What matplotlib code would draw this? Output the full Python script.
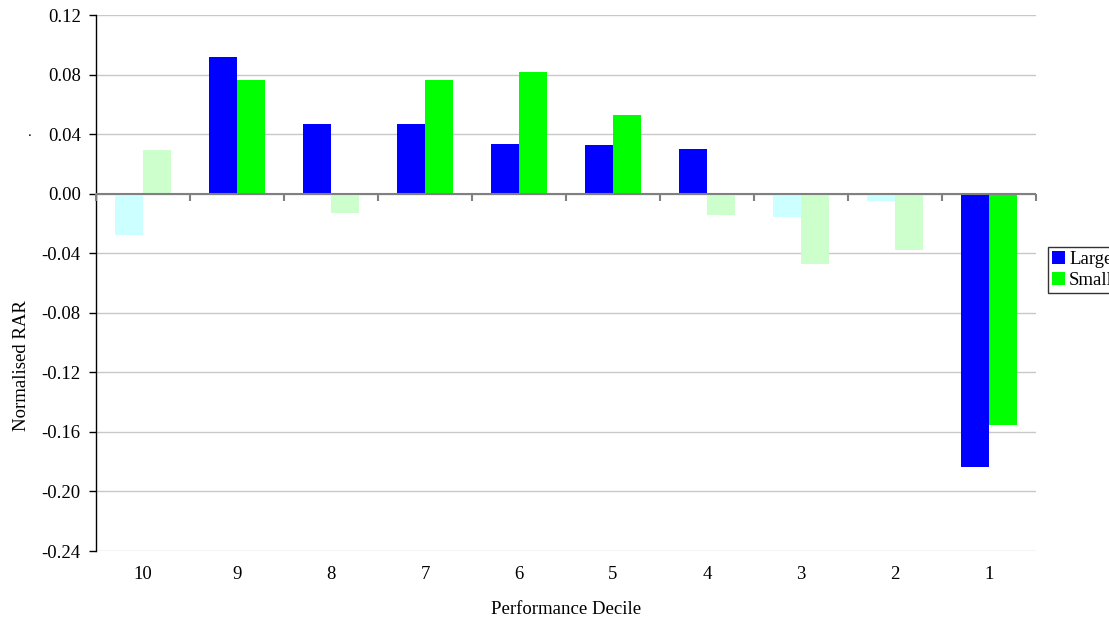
import matplotlib
matplotlib.use("Agg")
import matplotlib.pyplot as plt
import numpy as np
from matplotlib.patches import Patch

plt.rcParams['font.family'] = ['Liberation Serif', 'DejaVu Serif']
plt.rcParams['axes.unicode_minus'] = False

categories = ["10", "9", "8", "7", "6", "5", "4", "3", "2", "1"]
large = [-0.028, 0.092, 0.047, 0.047, 0.0336, 0.033, 0.030, -0.0155, -0.0047, -0.1833]
small = [0.029, 0.0766, -0.0127, 0.0766, 0.082, 0.053, -0.014, -0.047, -0.038, -0.1556]
large_sig = [False, True, True, True, True, True, True, False, False, True]
small_sig = [False, True, False, True, True, True, False, False, False, True]
yticks = [-0.24, -0.20, -0.16, -0.12, -0.08, -0.04, 0.00, 0.04, 0.08, 0.12]

BLUE, GREEN = "#0000FF", "#00FF00"
BLUE_F, GREEN_F = "#CCFFFF", "#CCFFCC"
FS = 13.5

fig = plt.figure(figsize=(11.09, 6.23), dpi=100)
ax = fig.add_axes([96/1109, 1-551/623, (1036-96)/1109, (551-15)/623])

x = np.arange(len(categories)) + 0.5
w = 0.293
ax.bar(x - w/2, large, width=w, color=[BLUE if s else BLUE_F for s in large_sig], zorder=2)
ax.bar(x + w/2, small, width=w, color=[GREEN if s else GREEN_F for s in small_sig], zorder=2)

ax.set_xlim(0, len(categories))
ax.set_ylim(-0.24, 0.12)
ax.set_yticks(yticks)
ax.set_yticklabels([f"{v:.2f}" for v in yticks], fontsize=FS)
ax.yaxis.grid(True, color="#C8C8C8", linewidth=1, zorder=0)
ax.set_axisbelow(True)
ax.set_xticks(x)
ax.set_xticklabels(categories, fontsize=FS)
ax.tick_params(axis='x', length=0, pad=10.5)
ax.tick_params(axis='y', length=5, width=1, color='black', direction='out', pad=6)

for s in ['top', 'right']:
    ax.spines[s].set_visible(False)
ax.spines['bottom'].set_visible(False)
ax.spines['left'].set_color('black')
ax.spines['left'].set_linewidth(1)

# category axis at zero
ax.axhline(0, color="#808080", linewidth=1.5, zorder=3)
ax.plot(np.arange(len(categories) + 1), np.zeros(len(categories) + 1), linestyle='none',
        marker=3, markersize=5, markeredgewidth=1.5, color="#808080", zorder=3, clip_on=False)

fig.text(566/1109, 1-609/623, "Performance Decile", ha='center', va='center', fontsize=FS)
fig.text(22/1109, 1-366/623, "Normalised RAR", rotation=90, ha='center', va='center', fontsize=FS)
fig.text(30/1109, 1-133/623, ".", ha='center', va='center', fontsize=11)

handles = [Patch(facecolor=BLUE, edgecolor='none', label='Large'),
           Patch(facecolor=GREEN, edgecolor='none', label='Small')]
leg = fig.legend(handles=handles, loc='upper left', bbox_to_anchor=(1048/1109, 1-247/623),
                 fontsize=FS, frameon=True, fancybox=False, handlelength=0.7, handleheight=0.7,
                 handletextpad=0.2, borderpad=0.22, labelspacing=0.18, borderaxespad=0)
leg.get_frame().set_edgecolor('black')
leg.get_frame().set_linewidth(1)

fig.savefig("out.png", dpi=100)
